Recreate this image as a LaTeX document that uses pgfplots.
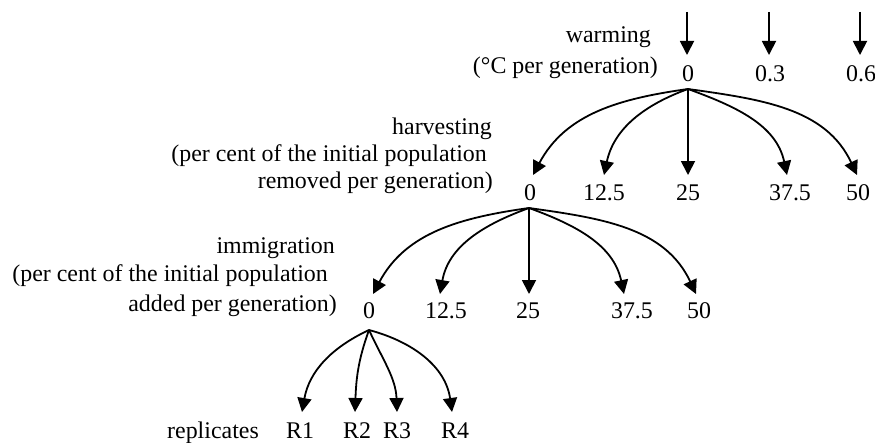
\documentclass[border=0pt]{standalone}
\usepackage{fontspec}
\setmainfont{Liberation Serif}
\usepackage{pgfplots}
\pgfplotsset{compat=1.18}
\usetikzlibrary{arrows.meta}
\begin{document}
\begin{tikzpicture}[
  arr/.style={-{Triangle[length=14bp,width=14bp]}, line width=1.8bp},
  lab/.style={font=\fontsize{24}{29}\selectfont, inner sep=0pt},
]
\begin{axis}[width=875bp, height=443bp, scale only axis,
  xmin=0, xmax=875, ymin=0, ymax=443, y dir=reverse,
  hide axis, clip=false]
% warming
\draw[arr] (axis cs:687,12) -- (axis cs:687,55);
\draw[arr] (axis cs:769,12) -- (axis cs:769,55);
\draw[arr] (axis cs:860,12) -- (axis cs:860,55);
\node[lab, anchor=base east] at (axis cs:651,43) {warming};
\node[lab, anchor=base east] at (axis cs:658,74) {(°C per generation)};
\node[lab, anchor=base] at (axis cs:688,82) {0};
\node[lab, anchor=base] at (axis cs:770,82) {0.3};
\node[lab, anchor=base] at (axis cs:861,82) {0.6};
% harvesting
\draw[arr] (axis cs:688,89) to[out=188,in=62] (axis cs:533,175);
\draw[arr] (axis cs:688,89) to[out=200,in=78] (axis cs:604,175);
\draw[arr] (axis cs:688,89) -- (axis cs:688,175);
\draw[arr] (axis cs:688,89) to[out=-20,in=102] (axis cs:787,175);
\draw[arr] (axis cs:688,89) to[out=-8,in=115] (axis cs:857,175);
\node[lab, anchor=base east] at (axis cs:492,134) {harvesting};
\node[lab, anchor=base east] at (axis cs:487,161) {(per cent of the initial population};
\node[lab, anchor=base east] at (axis cs:493,188) {removed per generation)};
\node[lab, anchor=base] at (axis cs:530,200) {0};
\node[lab, anchor=base] at (axis cs:604,200) {12.5};
\node[lab, anchor=base] at (axis cs:688,200) {25};
\node[lab, anchor=base] at (axis cs:790,200) {37.5};
\node[lab, anchor=base] at (axis cs:858,200) {50};
% immigration
\draw[arr] (axis cs:529,208) to[out=188,in=62] (axis cs:373,294);
\draw[arr] (axis cs:529,208) to[out=200,in=80] (axis cs:440,294);
\draw[arr] (axis cs:529,208) -- (axis cs:529,294);
\draw[arr] (axis cs:529,208) to[out=-20,in=102] (axis cs:624,294);
\draw[arr] (axis cs:529,208) to[out=-8,in=115] (axis cs:696,294);
\node[lab, anchor=base east] at (axis cs:335,253) {immigration};
\node[lab, anchor=base east] at (axis cs:328,281) {(per cent of the initial population};
\node[lab, anchor=base east] at (axis cs:337,311) {added per generation)};
\node[lab, anchor=base] at (axis cs:369,318) {0};
\node[lab, anchor=base] at (axis cs:446,318) {12.5};
\node[lab, anchor=base] at (axis cs:528,318) {25};
\node[lab, anchor=base] at (axis cs:632,318) {37.5};
\node[lab, anchor=base] at (axis cs:699,318) {50};
% replicates
\draw[arr] (axis cs:369,330) to[out=205,in=80] (axis cs:302,412);
\draw[arr] (axis cs:369,330) to[out=250,in=88] (axis cs:355,412);
\draw[arr] (axis cs:369,330) to[out=-65,in=92] (axis cs:397,412);
\draw[arr] (axis cs:369,330) to[out=-15,in=98] (axis cs:452,412);
\node[lab, anchor=base east] at (axis cs:259,438) {replicates};
\node[lab, anchor=base] at (axis cs:300,438) {R1};
\node[lab, anchor=base] at (axis cs:357,438) {R2};
\node[lab, anchor=base] at (axis cs:397,438) {R3};
\node[lab, anchor=base] at (axis cs:455,438) {R4};
\end{axis}
\pgfresetboundingbox
\path (current axis.south west) rectangle (current axis.north east);
\end{tikzpicture}
\end{document}
